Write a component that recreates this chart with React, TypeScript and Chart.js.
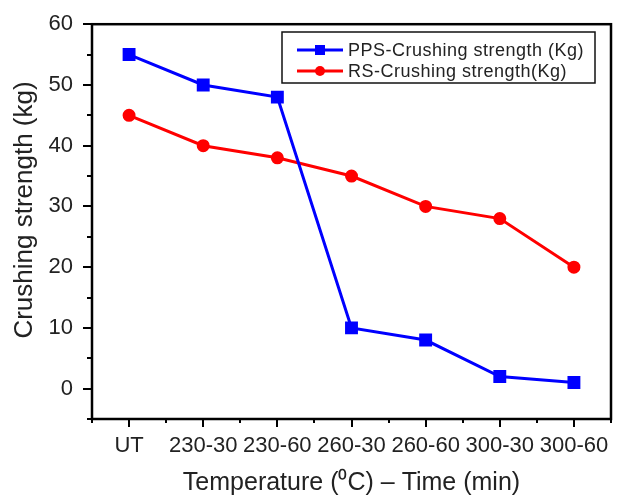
import React, { useEffect, useRef } from 'react';
import { Chart, registerables } from 'chart.js';
Chart.register(...registerables);

const categories = ['UT', '230-30', '230-60', '260-30', '260-60', '300-30', '300-60'];
const ppsValues = [55, 50, 48, 10, 8, 2, 1];
const rsValues = [45, 40, 38, 35, 30, 28, 20];
const yTickValues = [0, 10, 20, 30, 40, 50, 60];
const seriesNames = ['PPS-Crushing strength (Kg)', 'RS-Crushing strength(Kg)'];
const seriesColors = ['#0000ff', '#ff0000'];
const xTitle = 'Temperature (\u2070C) \u2013 Time (min)';
const yTitle = 'Crushing strength (kg)';
const Y_MIN = -5;
const Y_MAX = 60;
const FONT = '"Liberation Sans", Arial, Helvetica, sans-serif';

const framePlugin = {
  id: 'frame',
  afterDraw(chart: any) {
    const { ctx, chartArea: a, scales } = chart;
    const xs = scales.x;
    const ys = scales.y;
    ctx.save();
    ctx.strokeStyle = '#000';
    ctx.lineWidth = 2.5;
    ctx.strokeRect(a.left, a.top, a.right - a.left, a.bottom - a.top);
    ctx.lineWidth = 2;
    for (let v = Y_MIN; v <= Y_MAX; v += 5) {
      const py = Math.round(ys.getPixelForValue(v));
      const len = v % 10 === 0 ? 9 : 5;
      ctx.beginPath();
      ctx.moveTo(a.left - len, py);
      ctx.lineTo(a.left, py);
      ctx.stroke();
    }
    for (let i = -0.5; i <= categories.length - 0.5; i += 0.5) {
      const px = Math.round(xs.getPixelForValue(i));
      const len = Number.isInteger(i) ? 8 : 4;
      ctx.beginPath();
      ctx.moveTo(px, a.bottom);
      ctx.lineTo(px, a.bottom + len);
      ctx.stroke();
    }
    // axis titles
    ctx.fillStyle = '#222';
    ctx.font = `25px ${FONT}`;
    ctx.textAlign = 'center';
    ctx.textBaseline = 'alphabetic';
    ctx.fillText(xTitle, (a.left + a.right) / 2, 490);
    ctx.save();
    ctx.font = `26px ${FONT}`;
    ctx.translate(32, 210);
    ctx.rotate(-Math.PI / 2);
    ctx.fillText(yTitle, 0, 0);
    ctx.restore();

    // legend
    const bx = 282, by = 32, bw = 313, bh = 51;
    ctx.fillStyle = '#fff';
    ctx.fillRect(bx, by, bw, bh);
    ctx.lineWidth = 1.5;
    ctx.strokeStyle = '#111';
    ctx.strokeRect(bx, by, bw, bh);
    const rows = [50, 71];
    chart.data.datasets.forEach((ds: any, k: number) => {
      const ry = rows[k];
      ctx.strokeStyle = ds.borderColor;
      ctx.lineWidth = 3;
      ctx.beginPath();
      ctx.moveTo(297, ry);
      ctx.lineTo(343, ry);
      ctx.stroke();
      ctx.fillStyle = ds.borderColor;
      if (ds.pointStyle === 'rect') {
        ctx.fillRect(315, ry - 5, 10, 10);
      } else {
        ctx.beginPath();
        ctx.arc(320, ry, 5, 0, Math.PI * 2);
        ctx.fill();
      }
      ctx.fillStyle = '#222';
      ctx.font = `18px ${FONT}`;
      (ctx as any).letterSpacing = '0.5px';
      ctx.textAlign = 'left';
      ctx.textBaseline = 'middle';
      ctx.fillText(ds.label, 348, ry + 1);
      (ctx as any).letterSpacing = '0px';
    });
    ctx.restore();
  },
};

export default function App() {
  const ref = useRef<HTMLCanvasElement>(null);
  useEffect(() => {
    document.body.style.margin = '0';
    const chart = new Chart(ref.current as HTMLCanvasElement, {
      type: 'line',
      data: {
        labels: categories,
        datasets: [
          {
            label: seriesNames[0],
            data: ppsValues,
            borderColor: seriesColors[0],
            backgroundColor: seriesColors[0],
            borderWidth: 3,
            pointStyle: 'rect',
            pointRadius: 7,
            pointHoverRadius: 7,
            tension: 0,
          },
          {
            label: seriesNames[1],
            data: rsValues,
            borderColor: seriesColors[1],
            backgroundColor: seriesColors[1],
            borderWidth: 3,
            pointStyle: 'circle',
            pointRadius: 5,
            pointHoverRadius: 5,
            tension: 0,
          },
        ],
      },
      options: {
        responsive: false,
        animation: false,
        events: [],
        layout: { padding: { left: 0, top: 15, right: 16, bottom: 0 } },
        plugins: { legend: { display: false }, tooltip: { enabled: false } },
        scales: {
          x: {
            type: 'category',
            offset: true,
            grid: { display: false },
            border: { display: false },
            ticks: {
              color: '#222',
              font: { family: FONT, size: 22 },
              padding: 6,
              maxRotation: 0,
              autoSkip: false,
            },
            afterFit: (s: any) => {
              s.height = 76;
            },
          },
          y: {
            type: 'linear',
            min: Y_MIN,
            max: Y_MAX,
            grid: { display: false },
            border: { display: false },
            afterBuildTicks: (s: any) => {
              s.ticks = yTickValues.map((v) => ({ value: v }));
            },
            ticks: {
              color: '#222',
              font: { family: FONT, size: 22 },
              padding: 11,
            },
            afterFit: (s: any) => {
              s.width = 92;
            },
          },
        },
      },
      plugins: [framePlugin],
    });
    return () => chart.destroy();
  }, []);
  return <canvas ref={ref} width={627} height={495} style={{ display: 'block' }} />;
}
